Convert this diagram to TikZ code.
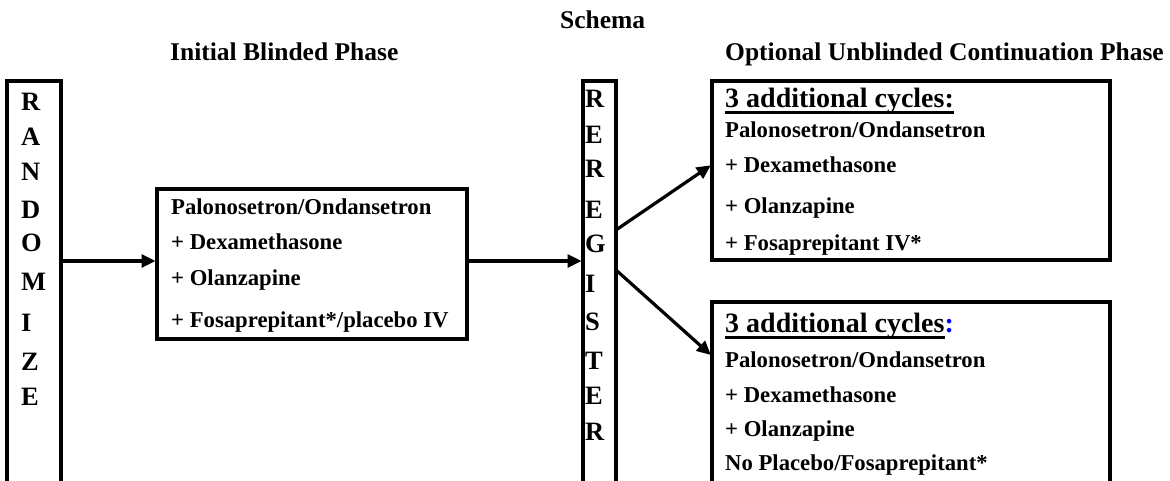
\documentclass[tikz,border=0pt]{standalone}
\usepackage{fontspec}
\setmainfont{Liberation Serif}
\usetikzlibrary{arrows.meta}
\newcommand\myul[1]{\setbox0\hbox{#1}\rlap{\rule[-6.5pt]{\wd0}{3pt}}\box0}
\begin{document}
\begin{tikzpicture}[x=1pt,y=-1pt,
  box/.style={draw, line width=3.8pt, inner sep=0pt, outer sep=0pt, anchor=north west},
  txt/.style={font=\fontsize{22.7}{27}\selectfont\bfseries, inner sep=0pt, anchor=base west},
  ttl/.style={font=\fontsize{25.5}{30}\selectfont\bfseries, inner sep=0pt, anchor=base west},
  hdr/.style={font=\fontsize{28}{32}\selectfont\bfseries, inner sep=0pt, anchor=base west},
  letter/.style={font=\fontsize{26.5}{30}\selectfont\bfseries, inner sep=0pt, anchor=base west},
  arr/.style={line width=3.2pt, shorten >=1.5pt, -{Triangle[length=14pt,width=13pt]}}]

\useasboundingbox (0,0) rectangle (1170,480);
\clip (0,0) rectangle (1170,480);
\fill[white] (0,0) rectangle (1170,480);

% titles
\node[ttl] (schema) at (560,28) {Schema};
\node[ttl] (t1) at (170,60) {Initial Blinded Phase};
\node[ttl] (t2) at (725,60) {Optional Unblinded Continuation Phase};

% boxes
\node[box, minimum width=54pt, minimum height=480pt] (rand) at (7,81) {};
\node[box, minimum width=310pt, minimum height=150pt] (mid) at (157,189) {};
\node[box, minimum width=33pt, minimum height=480pt] (reg) at (583,81) {};
\node[box, minimum width=398pt, minimum height=179pt] (top) at (712,81) {};
\node[box, minimum width=398pt, minimum height=250pt] (bot) at (712,302) {};

% letters
\foreach \l/\y [count=\i] in {R/110,A/145,N/180,D/218,O/251,M/290,I/331,Z/370,E/405}
  \node[letter] (rl\i) at (21,\y) {\l};
\foreach \l/\y [count=\i] in {R/107,E/143,R/177,E/218,G/252,I/292,S/330,T/369,E/404,R/440}
  \node[letter] (gl\i) at (585,\y) {\l};

% middle text
\node[txt] (m1) at (171,214) {Palonosetron/Ondansetron};
\node[txt] (m2) at (171,249) {+ Dexamethasone};
\node[txt] (m3) at (171,285) {+ Olanzapine};
\node[txt] (m4) at (171,327) {+ Fosaprepitant*/placebo IV};

% top right text
\node[hdr] (h1) at (725,107) {\myul{3 additional cycles:}};
\node[txt] (a1) at (725,137) {Palonosetron/Ondansetron};
\node[txt] (a2) at (725,172) {+ Dexamethasone};
\node[txt] (a3) at (725,213) {+ Olanzapine};
\node[txt] (a4) at (725,250) {+ Fosaprepitant IV*};

% bottom right text
\node[hdr] (h2) at (725,332) {\myul{3 additional cycles}\textcolor{blue}{:}};
\node[txt] (b1) at (725,367) {Palonosetron/Ondansetron};
\node[txt] (b2) at (725,402) {+ Dexamethasone};
\node[txt] (b3) at (725,436) {+ Olanzapine};
\node[txt] (b4) at (725,470) {No Placebo/Fosaprepitant*};

% arrows
\coordinate (p1) at ([yshift=3pt]mid.west);
\coordinate (p2) at ([yshift=3pt]mid.east);
\draw[arr] (rand.east |- p1) -- (p1);
\draw[arr] (p2) -- (reg.west |- p2);
\draw[arr] ([yshift=-149pt]reg.north east) -- ([yshift=6pt]top.west);
\draw[arr] ([yshift=-189pt]reg.north east) -- ([yshift=-54pt]bot.north west);
\end{tikzpicture}
\end{document}
